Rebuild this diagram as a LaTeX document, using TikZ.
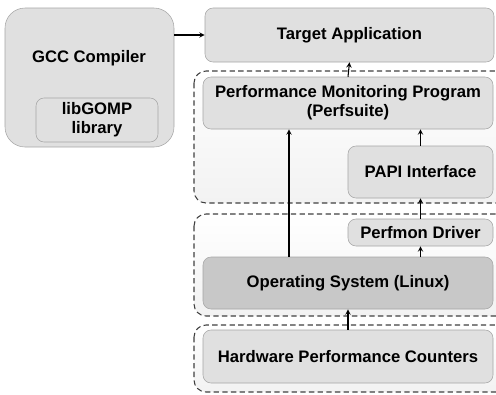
\documentclass[tikz,border=0pt]{standalone}
\usepackage{fontspec}
\setmainfont{Liberation Sans}
\usepackage{tikz}
\usetikzlibrary{arrows,shapes,positioning}
\usepackage{xcolor}
\definecolor{boxgray}{RGB}{224,224,224}
\definecolor{osgray}{RGB}{200,200,200}
\definecolor{edgegray}{RGB}{165,165,165}
\definecolor{groupgray}{RGB}{242,242,242}
\tikzstyle{arrow} = [thick,->,>=stealth,color=black]
\tikzstyle{layerbox} = [rectangle, rounded corners=6pt, text centered, align=center, draw=edgegray, fill=boxgray, font=\bfseries\fontsize{12.5}{14}\selectfont]
\tikzstyle{group} = [rounded corners=9pt, draw=black!75, dash pattern=on 4pt off 2.5pt, thick, top color=white, bottom color=groupgray]

\begin{document}
\begin{tikzpicture}[x=0.75pt, y=-0.75pt]
\useasboundingbox (0,0) rectangle (496,394);
% dashed layer groups
\draw[group] (194,71) rectangle (508,203);
\draw[group] (194,214) rectangle (508,316);
\draw[group] (194,325) rectangle (508,392);

% compiler side
\node[layerbox, rounded corners=15pt, minimum width=126.75pt, minimum height=104.25pt] (gcc) at (89.5,77.5) {};
\node[font=\bfseries\fontsize{12.5}{14}\selectfont] (gcctext) at (89,58) {GCC Compiler};
\node[layerbox, minimum width=91.5pt, minimum height=33pt] (gomp) at (97,120) {libGOMP\\library};

% monitoring stack
\node[layerbox, minimum width=216.75pt, minimum height=40.5pt] (target) at (349.5,35) {Target Application};
\node[layerbox, minimum width=217.5pt, minimum height=39pt] (pmp) at (348,103) {Performance Monitoring Program\\(Perfsuite)};
\node[layerbox, minimum width=108.75pt, minimum height=39pt] (papi) at (420.5,172) {PAPI Interface};
\node[layerbox, minimum width=108.75pt, minimum height=20.25pt, inner sep=1pt] (perfmon) at (420.5,232.5) {Perfmon Driver};
\node[layerbox, fill=osgray, minimum width=217.5pt, minimum height=39pt] (os) at (348,283) {Operating System (Linux)};
\node[layerbox, minimum width=217.5pt, minimum height=39.75pt] (hpc) at (348,356.5) {Hardware Performance Counters};

\coordinate (lk) at (289,0);
\draw[arrow] (gcc.east |- target.west) -- (target.west);
\draw[arrow] (pmp.north) -- (target.south);
\draw[arrow] (papi.north) -- (papi.north |- pmp.south);
\draw[arrow] (perfmon.north) -- (papi.south);
\draw[arrow] (perfmon.south |- os.north) -- (perfmon.south);
\draw[arrow] (os.north -| lk) -- (pmp.south -| lk);
\draw[arrow] (hpc.north) -- (os.south);
\end{tikzpicture}
\end{document}
